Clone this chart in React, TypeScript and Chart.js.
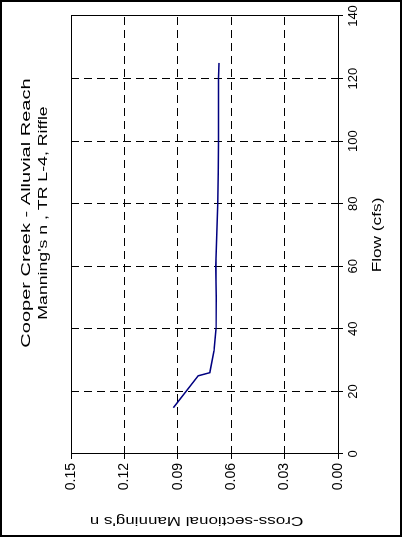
import React, { useEffect, useRef } from "react";
import { Chart, registerables } from "chart.js";

Chart.register(...registerables);

// ---- data ----
const flowCfs = [14.8, 25, 26, 33, 40, 50, 60, 70, 80, 90, 100, 110, 120, 125];
const manningN = [0.0925, 0.0785, 0.072, 0.0697, 0.0685, 0.0684, 0.0687, 0.0681, 0.0676, 0.0673, 0.0671, 0.0671, 0.0672, 0.0669];
const flowTicks = [0, 20, 40, 60, 80, 100, 120, 140];
const nTicks = [0, 0.03, 0.06, 0.09, 0.12, 0.15];
const titleLines = ["Cooper Creek - Alluvial Reach", "Manning's n , TR L-4, Riffle"];
const xTitle = "Flow (cfs)";
const yTitle = "Cross-sectional Manning's n";

// unrotated chart size (the picture is shown turned a quarter turn left)
const W = 537;
const H = 402;
const FONT = "'Liberation Sans', Arial, sans-serif";

function drawText(
  ctx: CanvasRenderingContext2D,
  text: string,
  cx: number,
  cy: number,
  size: number,
  sx: number,
  rot: number
) {
  ctx.save();
  ctx.translate(cx, cy);
  ctx.rotate(rot);
  ctx.scale(sx, 1);
  ctx.font = `${size}px ${FONT}`;
  ctx.fillStyle = "#000";
  ctx.textAlign = "center";
  ctx.textBaseline = "middle";
  ctx.fillText(text, 0, 0);
  ctx.restore();
}

const decorPlugin = {
  id: "decor",
  beforeDraw(chart: any) {
    const ctx = chart.ctx as CanvasRenderingContext2D;
    ctx.save();
    ctx.fillStyle = "#fff";
    ctx.fillRect(0, 0, chart.width, chart.height);
    ctx.restore();
  },
  afterDraw(chart: any) {
    const ctx = chart.ctx as CanvasRenderingContext2D;
    const a = chart.chartArea;
    ctx.save();
    ctx.strokeStyle = "#000";
    ctx.lineWidth = 1;
    ctx.setLineDash([]);
    ctx.strokeRect(Math.round(a.left) + 0.5, Math.round(a.top) + 0.5, a.right - a.left, a.bottom - a.top);
    ctx.lineWidth = 2;
    ctx.strokeRect(1, 1, chart.width - 2, chart.height - 2);
    ctx.restore();

    const cxPlot = (a.left + a.right) / 2;
    const cyPlot = (a.top + a.bottom) / 2;
    drawText(ctx, titleLines[0], cxPlot + 22, 26, 13, 1.54, 0);
    drawText(ctx, titleLines[1], cxPlot + 22, 43, 13, 1.36, 0);
    drawText(ctx, xTitle, cxPlot, 378, 12.5, 1.38, 0);
    drawText(ctx, yTitle, 16, cyPlot - 8, 13, 1.31, -Math.PI / 2);
  },
};

export default function App() {
  const ref = useRef<HTMLCanvasElement | null>(null);

  useEffect(() => {
    if (!ref.current) return;
    const chart = new Chart(ref.current, {
      type: "line",
      data: {
        datasets: [
          {
            data: flowCfs.map((x, i) => ({ x, y: manningN[i] })),
            borderColor: "#000080",
            borderWidth: 1.5,
            pointRadius: 0,
            fill: false,
            tension: 0,
          },
        ],
      },
      options: {
        animation: false,
        responsive: false,
        devicePixelRatio: 1,
        layout: { padding: { left: 0, right: 16, top: 71, bottom: 0 } },
        plugins: {
          legend: { display: false },
          tooltip: { enabled: false },
          title: { display: false },
        },
        scales: {
          x: {
            type: "linear",
            min: 0,
            max: 140,
            afterBuildTicks: (s: any) => {
              s.ticks = flowTicks.map((v) => ({ value: v }));
            },
            afterFit: (s: any) => {
              s.height = 64;
            },
            ticks: {
              color: "#000",
              font: { family: FONT, size: 13 },
              padding: 3,
              maxRotation: 0,
              autoSkip: false,
            },
            grid: { color: "#000", lineWidth: 1, tickLength: 5, tickColor: "#000" },
            border: { display: false, dash: [8, 5] },
          },
          y: {
            type: "linear",
            min: 0,
            max: 0.15,
            afterBuildTicks: (s: any) => {
              s.ticks = nTicks.map((v) => ({ value: v }));
            },
            afterFit: (s: any) => {
              s.width = 83;
            },
            ticks: {
              color: "#000",
              font: { family: FONT, size: 14 },
              padding: 4,
              autoSkip: false,
              callback: (v: any) => Number(v).toFixed(2),
            },
            grid: { color: "#000", lineWidth: 1, tickLength: 5, tickColor: "#000" },
            border: { display: false, dash: [8, 5] },
          },
        },
      } as any,
      plugins: [decorPlugin],
    });
    return () => chart.destroy();
  }, []);

  return (
    <div
      style={{
        position: "absolute",
        left: 0,
        top: 0,
        width: H,
        height: W,
        overflow: "hidden",
        background: "#fff",
      }}
    >
      <canvas
        ref={ref}
        width={W}
        height={H}
        style={{
          position: "absolute",
          left: 0,
          top: 0,
          width: W,
          height: H,
          transformOrigin: "0 0",
          transform: `translate(0px, ${W}px) rotate(-90deg)`,
        }}
      />
    </div>
  );
}
